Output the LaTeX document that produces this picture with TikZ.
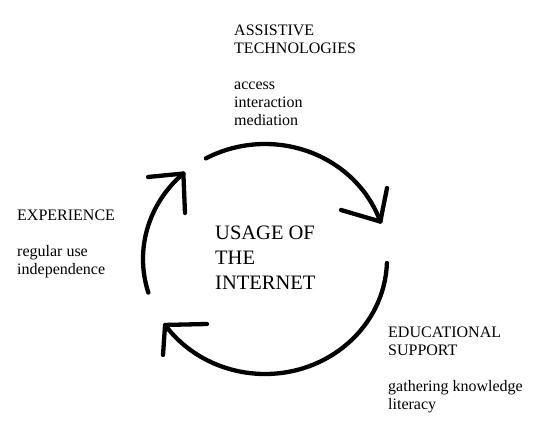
\documentclass[tikz,border=0pt]{standalone}
\usepackage{fontspec}
\setmainfont{Liberation Serif}
\begin{document}
\begin{tikzpicture}[x=1pt,y=1pt,
  cyc/.style={line width=4.3pt, line cap=round, line join=round, black},
  small/.style={anchor=base west, inner sep=0pt, font=\fontsize{16}{18}\selectfont},
  big/.style={anchor=base west, inner sep=0pt, font=\fontsize{20.5}{24}\selectfont}]
\useasboundingbox (0,0) rectangle (542,-438);
% circle geometry: centre (265,-259), radii 122 x 115
\coordinate (ts) at ({265+122*cos(119)},{-259+115*sin(119)});
\coordinate (te) at ({265+122*cos(19)},{-259+115*sin(19)});
\coordinate (rs) at ({265+122*cos(-2)},{-259+115*sin(-2)});
\coordinate (re) at ({265+122*cos(-145)},{-259+115*sin(-145)});
\coordinate (ls) at ({265+122*cos(197)},{-259+115*sin(197)});
\coordinate (le) at ({265+122*cos(132)},{-259+115*sin(132)});
% arcs
\draw[cyc] (ts) arc[start angle=119, end angle=19, x radius=122pt, y radius=115pt];
\draw[cyc] (rs) arc[start angle=-2, end angle=-145, x radius=122pt, y radius=115pt];
\draw[cyc] (ls) arc[start angle=197, end angle=132, x radius=122pt, y radius=115pt];
% hand-drawn arrowheads
\coordinate (t1) at (341,-210); \coordinate (t2) at (387,-188);
\draw[cyc] (t1) -- (te) -- (t2);
\coordinate (b1) at (207,-324); \coordinate (b2) at (163,-355);
\draw[cyc] (b1) -- (re) -- (b2);
\coordinate (l1) at (148,-177); \coordinate (l2) at (185,-213);
\draw[cyc] (l1) -- (le) -- (l2);
% texts
\node[small] (at1) at (234,-36) {ASSISTIVE};
\node[small] (at2) at (234,-54) {TECHNOLOGIES};
\node[small] (at3) at (234,-90) {access};
\node[small] (at4) at (234,-108) {interaction};
\node[small] (at5) at (234,-126) {mediation};
\node[small] (ex1) at (17,-221) {EXPERIENCE};
\node[small] (ex2) at (17,-257) {regular use};
\node[small] (ex3) at (17,-275) {independence};
\node[small] (ed1) at (388,-338) {EDUCATIONAL};
\node[small] (ed2) at (388,-356) {SUPPORT};
\node[small] (ed3) at (388,-392) {gathering knowledge};
\node[small] (ed4) at (388,-410) {literacy};
\node[big] (u1) at (215,-240) {USAGE OF};
\node[big] (u2) at (215,-265) {THE};
\node[big] (u3) at (215,-290) {INTERNET};
\end{tikzpicture}
\end{document}
